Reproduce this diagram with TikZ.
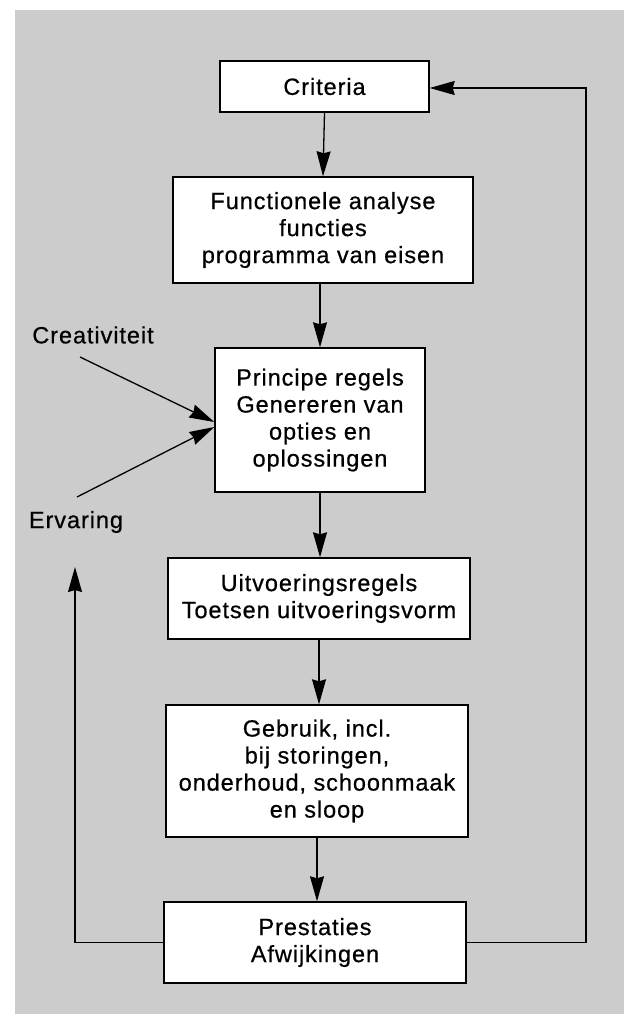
\documentclass[tikz,border=0pt]{standalone}
\usepackage{fontspec}
\newfontfamily\diagfont{Liberation Sans}[LetterSpace=4,FakeBold=0.6]
\usetikzlibrary{arrows.meta,calc}
\definecolor{scan}{gray}{0.80}
\tikzset{
  box/.style={draw=black, line width=1.4pt, fill=white, align=center, inner sep=0pt,
              font=\diagfont\fontsize{23.5}{27}\selectfont},
  lbl/.style={font=\diagfont\fontsize{23.5}{27}\selectfont, inner sep=0pt},
  conn/.style={line width=1.3pt, -{Stealth[length=25pt,width=14pt,inset=2pt]}},
  plain/.style={line width=1.3pt}
}
\begin{document}
\begin{tikzpicture}[x=1pt,y=-1pt]
\useasboundingbox (0,0) rectangle (624,1022);
\fill[white] (0,0) rectangle (624,1022);
\fill[scan] (15,10) rectangle (624,1014);

\node[box, minimum width=209pt, minimum height=51pt] (cr) at (324.5,86.5) {Criteria};
\node[box, minimum width=300pt, minimum height=106pt] (fa) at (323,230) {Functionele analyse\\functies\\programma van eisen};
\node[box, minimum width=210pt, minimum height=144pt] (pr) at (320,420) {Principe regels\\Genereren van\\opties en\\oplossingen};
\node[box, minimum width=302pt, minimum height=81pt] (ui) at (319,598.5) {Uitvoeringsregels\\Toetsen uitvoeringsvorm};
\node[box, minimum width=302pt, minimum height=132pt] (ge) at (317,771) {Gebruik, incl.\\bij storingen,\\onderhoud, schoonmaak\\en sloop};
\node[box, minimum width=302pt, minimum height=81pt] (ps) at (315,942.5) {Prestaties\\Afwijkingen};

\node[lbl] (cv) at (93,335) {Creativiteit};
\node[lbl] (er) at (76,522) {Ervaring};

\coordinate (cvs) at (80,357);
\coordinate (ers) at (77,497);
\coordinate (lt) at (75,567);
\coordinate (lb) at (75,942.5);
\coordinate (rb) at (586,942.5);
\coordinate (rt) at (586,88);

\draw[conn] (cr.south) -- (fa.north);
\draw[conn] (fa.south -| pr.north) -- (pr.north);
\draw[conn] (pr.south) -- (pr.south |- ui.north);
\draw[conn] (ui.south) -- (ui.south |- ge.north);
\draw[conn] (ge.south) -- (ge.south |- ps.north);

\draw[conn] (cvs) -- ($(pr.west)+(0,2)$);
\draw[conn] (ers) -- ($(pr.west)+(0,7)$);

\draw[conn] (ps.west) -- (lb) -- (lt);
\draw[conn] (ps.east) -- (rb) -- (rt) -- (cr.east |- rt);
\end{tikzpicture}
\end{document}
